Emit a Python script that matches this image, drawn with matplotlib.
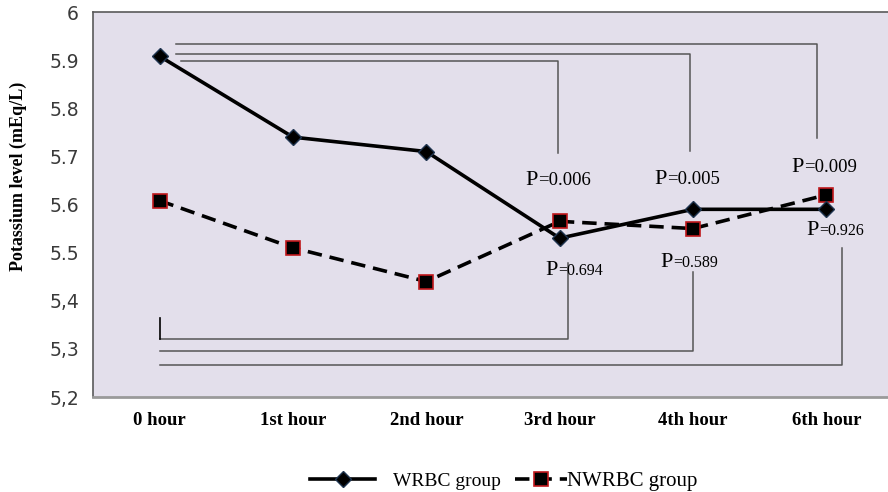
"""
Potassium level over time, WRBC vs NWRBC groups.
"""

import matplotlib.pyplot as plt

# Data
hours = ["0 hour", "1st hour", "2nd hour", "3rd hour", "4th hour", "6th hour"]
wrbc = [5.908, 5.74, 5.71, 5.53, 5.59, 5.59]
nwrbc = [5.608, 5.51, 5.44, 5.565, 5.55, 5.62]

y_ticks = [5.2, 5.3, 5.4, 5.5, 5.6, 5.7, 5.8, 5.9, 6.0]
y_tick_labels = ["5,2", "5,3", "5,4", "5.5", "5.6", "5.7", "5.8", "5.9", "6"]

# P values: WRBC comparisons (top) and NWRBC comparisons (bottom)
p_wrbc = ["=0.006", "=0.005", "=0.009"]
p_nwrbc = ["=0.694", "=0.589", "=0.926"]

BG = "#e3dfeb"
SERIF = "Liberation Serif"

fig = plt.figure(figsize=(8.88, 4.92), dpi=100)
ax = fig.add_axes([93 / 888, 95 / 492, 800 / 888, 385 / 492])
ax.set_facecolor(BG)

x = list(range(len(hours)))
l1, = ax.plot(x, wrbc, color="black", lw=2.6, marker="D", ms=8,
              mfc="black", mec="#1f3550", label="WRBC group", zorder=4)
l2, = ax.plot(x, nwrbc, color="black", lw=2.6, ls=(0, (4, 2.2)), marker="s", ms=10,
              mfc="black", mec="#c0181c", mew=1.2, label="NWRBC group", zorder=3)

ax.set_xlim(-0.5, 5.5)
ax.set_ylim(5.2, 6.0)
ax.set_xticks(x)
ax.set_xticklabels(hours, family=SERIF, fontweight="bold", fontsize=13.5)
ax.set_yticks(y_ticks)
ax.set_yticklabels(y_tick_labels, fontsize=13.5, color="#3a3a3a")
ax.tick_params(length=0)
ax.tick_params(axis="x", pad=11)
ax.tick_params(axis="y", pad=10)
for s in ax.spines.values():
    s.set_color("#5a5a5a")
    s.set_linewidth(1.2)
ax.spines["bottom"].set_color("#9a9a9a")
ax.spines["bottom"].set_linewidth(2)

fig.text(18 / 888, 1 - 176 / 492, "Potassium level (mEq/L)", family=SERIF,
         fontweight="bold", fontsize=13, rotation=90, ha="center", va="center")

# Comparison brackets from 0 hour to the later hours
line_kw = dict(color="#555555", lw=1.1, zorder=2)
top_brackets = [  # (x start, x end, y level, y bottom of drop)
    (0.16, 2.99, 5.898, 5.707),
    (0.12, 3.98, 5.913, 5.711),
    (0.12, 4.93, 5.9335, 5.738),
]
for x0, x1, yl, yb in top_brackets:
    ax.plot([x0, x1, x1], [yl, yl, yb], **line_kw)

bottom_brackets = [  # (x end, y level, y top of rise)
    (3.06, 5.3205, 5.478),
    (4.0, 5.2956, 5.46),
    (5.12, 5.2665, 5.51),
]
for x1, yl, yt in bottom_brackets:
    ax.plot([0, x1, x1], [yl, yl, yt], **line_kw)
ax.plot([0, 0], [5.3205, 5.364], color="black", lw=1.2, zorder=2)

# P labels: large "P", smaller value, joined at an anchor point (baseline)
top_pos = [(2.8375, 5.6405), (3.805, 5.643), (4.8325, 5.6675)]
for (px, py), txt in zip(top_pos, p_wrbc):
    ax.text(px, py, "P", family=SERIF, fontsize=16, ha="right", va="baseline")
    ax.text(px, py, txt, family=SERIF, fontsize=13.5, ha="left", va="baseline")
bot_pos = [(2.9875, 5.4535), (3.85, 5.47), (4.945, 5.5366)]
for (px, py), txt in zip(bot_pos, p_nwrbc):
    ax.text(px, py, "P", family=SERIF, fontsize=16, ha="right", va="baseline", zorder=5)
    ax.text(px, py, txt, family=SERIF, fontsize=11.5, ha="left", va="baseline", zorder=5)

# two separate legends so the second label can sit right against its handle
leg_kw = dict(loc="center left", frameon=False, borderpad=0, borderaxespad=0)
fig.legend(handles=[l1], bbox_to_anchor=(310 / 888, 0.022),
           handlelength=3.35, handletextpad=0.93,
           prop={"family": SERIF, "size": 14}, **leg_kw)
fig.legend(handles=[l2], bbox_to_anchor=(515 / 888, 0.022),
           handlelength=2.5, handletextpad=0.0,
           prop={"family": SERIF, "size": 15}, **leg_kw)

fig.savefig("out.png", dpi=100, facecolor="white")
